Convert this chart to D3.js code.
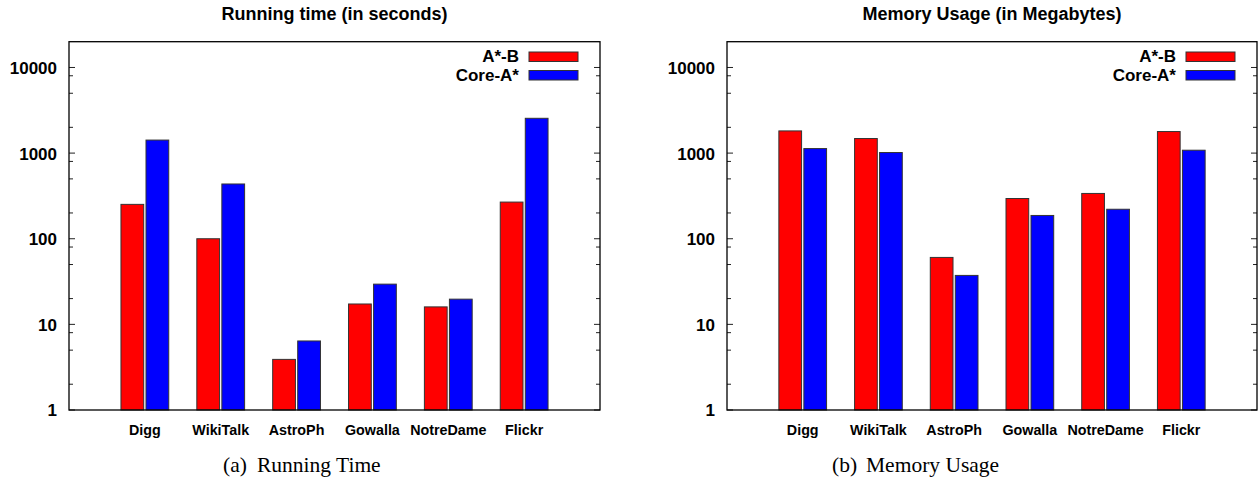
<!DOCTYPE html>
<html>
<head>
<meta charset="utf-8">
<script src="https://cdn.jsdelivr.net/npm/d3@7"></script>
<style>
  html, body { margin: 0; padding: 0; background: #fff; }
  svg { display: block; }
  .sans { font-family: "Liberation Sans", Arial, Helvetica, sans-serif; font-weight: bold; }
  .serif { font-family: "Liberation Serif", "Times New Roman", serif; }
</style>
</head>
<body>
<svg id="chart" width="1258" height="481"></svg>
<script>
// ---- data ----
const categories = ["Digg", "WikiTalk", "AstroPh", "Gowalla", "NotreDame", "Flickr"];
const seriesNames = ["A*-B", "Core-A*"];
const timeAstarB = [252, 100, 3.9, 17.3, 16, 268];
const timeCoreA = [1420, 436, 6.4, 29.5, 19.7, 2550];
const memAstarB = [1816, 1480, 60.5, 295, 338, 1786];
const memCoreA = [1130, 1016, 37.3, 187, 221, 1081];
const yTickValues = [1, 10, 100, 1000, 10000];
const yTickLabels = ["1", "10", "100", "1000", "10000"];
const minorMultipliers = [2, 5, 8];
const seriesColors = ["#ff0000", "#0000ff"];

const svg = d3.select("#chart");

function drawChart(left, right, title, redVals, blueVals, capLabel, capText, capX) {
  const top = 41.7, bottom = 410;
  const g = svg.append("g");
  const x = d3.scaleLinear().domain([-1, 6]).range([left, right]);
  const y = d3.scaleLog().domain([1, 20000]).range([bottom, top]);

  // title
  g.append("text").attr("class", "sans")
    .attr("x", (left + right) / 2).attr("y", 20)
    .attr("text-anchor", "middle").attr("font-size", 18)
    .text(title);

  // bars
  const series = [redVals, blueVals];
  const offsets = [-0.315, 0.015];
  const bw = 0.3;
  series.forEach((vals, s) => {
    g.selectAll(null).data(vals).enter().append("rect")
      .attr("x", (d, i) => x(i + offsets[s]))
      .attr("width", (d, i) => x(i + offsets[s] + bw) - x(i + offsets[s]))
      .attr("y", d => y(d))
      .attr("height", d => y(1) - y(d))
      .attr("fill", seriesColors[s])
      .attr("stroke", "#333")
      .attr("stroke-width", 1);
  });

  // minor + major ticks (left and mirrored right)
  const minorVals = [];
  yTickValues.forEach(v => minorMultipliers.forEach(m => {
    const mv = v * m;
    if (mv < 20000) minorVals.push(mv);
  }));
  const tickG = g.append("g").attr("stroke", "#222").attr("stroke-width", 1);
  minorVals.forEach(v => {
    tickG.append("line").attr("x1", left).attr("x2", left + 4).attr("y1", y(v)).attr("y2", y(v));
    tickG.append("line").attr("x1", right).attr("x2", right - 4).attr("y1", y(v)).attr("y2", y(v));
  });
  yTickValues.forEach(v => {
    tickG.append("line").attr("x1", left).attr("x2", left + 6).attr("y1", y(v)).attr("y2", y(v));
    tickG.append("line").attr("x1", right).attr("x2", right - 6).attr("y1", y(v)).attr("y2", y(v));
  });

  // y tick labels via axis
  const axis = d3.axisLeft(y).tickValues(yTickValues)
    .tickFormat((d, i) => yTickLabels[i]).tickSize(0).tickPadding(12);
  const ag = g.append("g").attr("transform", `translate(${left},0)`).call(axis);
  ag.select(".domain").remove();
  ag.selectAll("text").attr("class", "sans").attr("font-size", 17)
    .attr("fill", "#000").attr("dy", "0.35em");

  // category labels
  g.selectAll(null).data(categories).enter().append("text")
    .attr("class", "sans")
    .attr("x", (d, i) => x(i))
    .attr("y", 434.5)
    .attr("text-anchor", "middle")
    .attr("font-size", 14.3)
    .text(d => d);

  // border
  g.append("rect").attr("x", left).attr("y", top)
    .attr("width", right - left).attr("height", bottom - top)
    .attr("fill", "none").attr("stroke", "#000").attr("stroke-width", 1.3);

  // legend
  const legY = [[52, 62], [70.5, 81]];
  seriesNames.forEach((name, s) => {
    g.append("text").attr("class", "sans")
      .attr("x", right - 81).attr("y", legY[s][1])
      .attr("text-anchor", "end").attr("font-size", 17)
      .text(name);
    g.append("rect").attr("x", right - 71).attr("y", legY[s][0])
      .attr("width", 49).attr("height", 9.5)
      .attr("fill", seriesColors[s]).attr("stroke", "#333").attr("stroke-width", 1);
  });

  // caption
  const cap = g.append("text").attr("class", "serif").attr("font-size", 21.5)
    .attr("y", 472);
  cap.append("tspan").attr("x", capX).text(capLabel);
  cap.append("tspan").attr("x", capX + 34).text(capText);
}

drawChart(69, 600, "Running time (in seconds)", timeAstarB, timeCoreA, "(a)", "Running Time", 223);
drawChart(727, 1257, "Memory Usage (in Megabytes)", memAstarB, memCoreA, "(b)", "Memory Usage", 832);
</script>
</body>
</html>
